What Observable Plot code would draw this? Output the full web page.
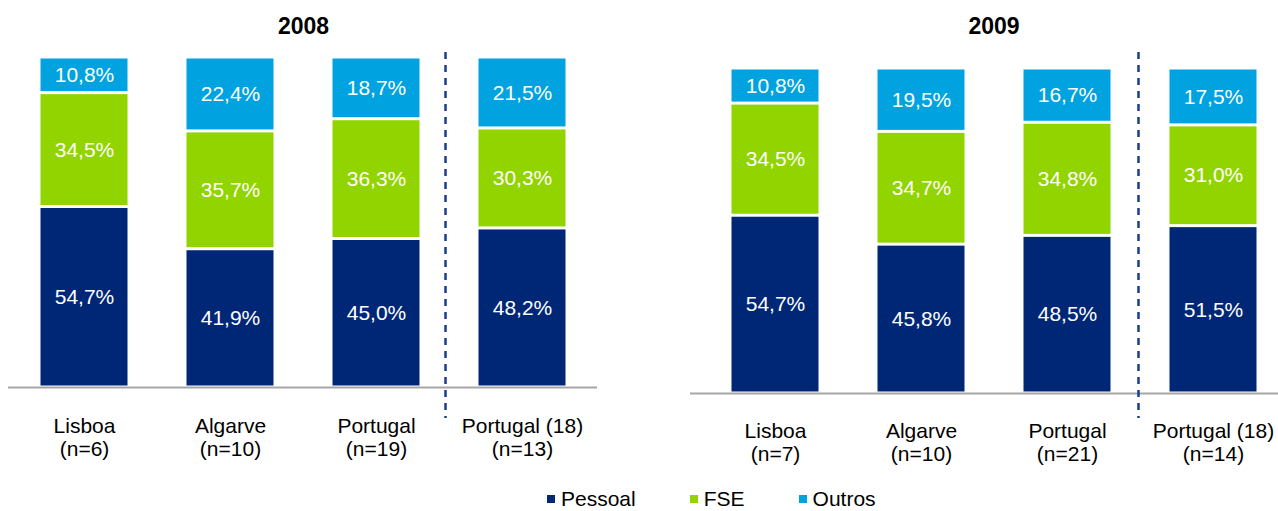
<!DOCTYPE html>
<html><head><meta charset="utf-8">
<script src="https://cdn.jsdelivr.net/npm/d3@7"></script>
<script src="https://cdn.jsdelivr.net/npm/@observablehq/plot@0.6"></script>
<style>
html,body{margin:0;padding:0;background:#fff;overflow:hidden;width:1278px;height:511px;}
#wrap{position:relative;width:1278px;height:511px;overflow:hidden;}
.panel{position:absolute;top:0;}
.panel svg{max-width:none !important;display:block;}
#legend{position:absolute;left:547px;top:488px;display:flex;font-family:"Liberation Sans",Arial,sans-serif;font-size:21px;line-height:22px;color:#000;white-space:nowrap;}
.item{display:flex;align-items:center;margin-right:54px;}
.sw{width:8px;height:8px;margin-right:6px;}
</style></head><body>
<div id="wrap"><div id="p1" class="panel" style="left:0;width:640px"></div><div id="p2" class="panel" style="left:640px;width:650px"></div><div id="legend"></div></div>
<script>
const series = ["Pessoal", "FSE", "Outros"];
const colors = ["#002776", "#92D400", "#00A3E0"];
const categories = ["Lisboa", "Algarve", "Portugal", "Portugal (18)"];
const years = ["2008", "2009"];
const n2008 = [6, 10, 19, 13];
const n2009 = [7, 10, 21, 14];
const pessoal2008 = [54.7, 41.9, 45.0, 48.2];
const fse2008 = [34.5, 35.7, 36.3, 30.3];
const outros2008 = [10.8, 22.4, 18.7, 21.5];
const pessoal2009 = [54.7, 45.8, 48.5, 51.5];
const fse2009 = [34.5, 34.7, 34.8, 31.0];
const outros2009 = [10.8, 19.5, 16.7, 17.5];

const FONT = '"Liberation Sans", Arial, sans-serif';
const fmt = v => v.toFixed(1).replace(".", ",") + "%";

function build(year, pessoal, fse, outros, ns, o) {
  const rows = [];
  categories.forEach((c, i) => {
    [pessoal[i], fse[i], outros[i]].forEach((v, j) => rows.push({category: c, series: series[j], value: v}));
  });
  const labels = categories.map((c, i) => ({category: c, label: `${c}\n(n=${ns[i]})`}));
  return Plot.plot({
    width: o.width, height: o.height,
    marginTop: o.mt, marginBottom: o.mb, marginLeft: o.ml, marginRight: o.mr,
    style: {fontFamily: FONT, background: "transparent", overflow: "visible"},
    x: {domain: categories, padding: 0, axis: null},
    y: {domain: [0, 100], axis: null},
    color: {domain: series, range: colors},
    marks: [
      Plot.barY(rows, Plot.stackY({x: "category", y: "value", fill: "series",
        insetLeft: 29.5, insetRight: 29.5, insetTop: 1.5, insetBottom: 1.5})),
      Plot.text(rows, Plot.stackY({x: "category", y: "value", text: d => fmt(d.value),
        fill: "white", fontSize: 21, lineAnchor: "middle"})),
      Plot.ruleY([0], {stroke: "#a6a6a6", strokeWidth: 2, insetLeft: o.axL, insetRight: o.axR}),
      Plot.ruleX([categories[3]], {stroke: "#1b3d8f", strokeWidth: 2.5, strokeDasharray: "7,6",
        dx: o.rdx, insetTop: o.rt, insetBottom: o.rb}),
      Plot.text(labels, {x: "category", text: "label", frameAnchor: "bottom", lineAnchor: "top",
        dy: o.ldy, lineHeight: 1.1, fontSize: 21, fill: "#000"}),
      Plot.text([year], {frameAnchor: "top", lineAnchor: "top", text: d => d, dy: o.tdy, fontSize: 23,
        fontWeight: "bold", fill: "#000"})
    ]
  });
}

document.getElementById("p1").appendChild(build(years[0], pessoal2008, fse2008, outros2008, n2008,
  {width: 640, height: 470, mt: 57, mb: 83, ml: 10.5, mr: 44.5, axL: -2.5, axR: -1.5,
   rdx: -77, rt: -5, rb: -31, ldy: 29, tdy: -40}));
document.getElementById("p2").appendChild(build(years[1], pessoal2009, fse2009, outros2009, n2009,
  {width: 650, height: 470, mt: 68, mb: 77, ml: 61.5, mr: 4.5, axL: -11.5, axR: 0,
   rdx: -75, rt: -16, rb: -25, ldy: 28, tdy: -51}));

const leg = document.getElementById("legend");
series.forEach((s, i) => {
  const it = document.createElement("div"); it.className = "item";
  const sw = document.createElement("div"); sw.className = "sw"; sw.style.background = colors[i];
  const t = document.createElement("span"); t.textContent = s;
  it.appendChild(sw); it.appendChild(t); leg.appendChild(it);
});
</script>
</body></html>
